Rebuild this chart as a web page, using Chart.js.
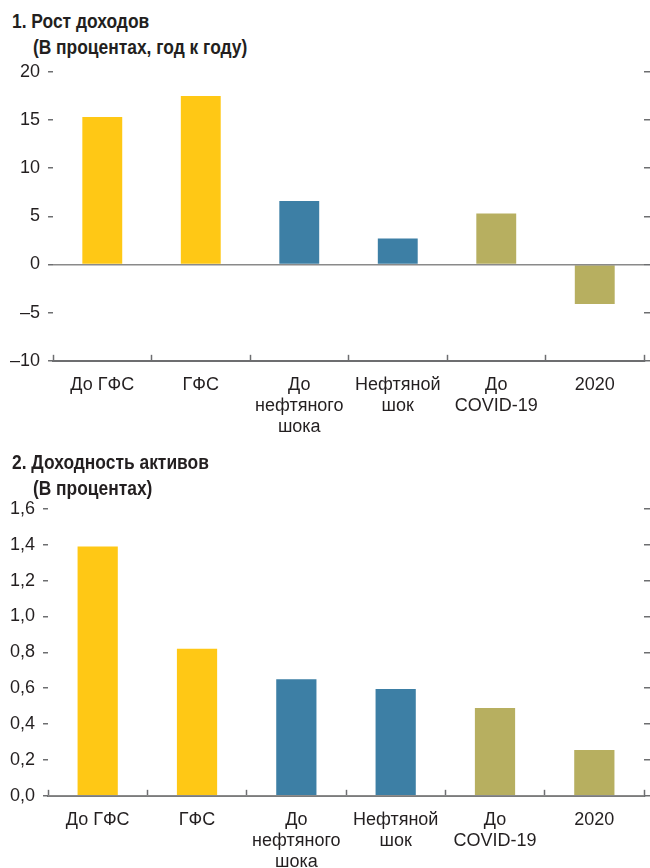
<!DOCTYPE html>
<html>
<head>
<meta charset="utf-8">
<script src="https://cdn.jsdelivr.net/npm/chart.js@4.4.0/dist/chart.umd.min.js"></script>
<style>
  body { margin: 0; width: 650px; height: 868px; overflow: hidden; background: #fff; position: relative;
         font-family: 'Liberation Sans Narrow', 'Liberation Sans', sans-serif; color: #231f20; }
  .title { position: absolute; left: 12px; font-weight: bold; font-size: 20px; line-height: 26px;
           transform: scaleX(0.87); transform-origin: left top; white-space: nowrap; }
  .title span { display: block; padding-left: 24px; }
  .box { position: absolute; left: 0; width: 650px; }
</style>
</head>
<body>
<div class="title" style="top:8px">1. Рост доходов<span>(В процентах, год к году)</span></div>
<div class="box" style="top:53px;height:410px"><canvas id="income-chart"></canvas></div>
<div class="title" style="top:449px">2. Доходность активов<span>(В процентах)</span></div>
<div class="box" style="top:490px;height:408px"><canvas id="roa-chart"></canvas></div>
<script>
var categories = [['До ГФС'], ['ГФС'], ['До', 'нефтяного', 'шока'], ['Нефтяной', 'шок'], ['До', 'COVID-19'], ['2020']];
var incomeGrowth = [15.3, 17.5, 6.6, 2.7, 5.3, -4.1];
var returnOnAssets = [1.39, 0.82, 0.65, 0.595, 0.49, 0.255];
var incomeAxis = [-10, 20, 5];   // min, max, step
var roaAxis = [0, 1.6, 0.2];
var barColors = ['#FFC815', '#FFC815', '#3D7FA5', '#3D7FA5', '#B7AF60', '#B7AF60'];

Chart.defaults.font.family = "'Liberation Sans Narrow', 'Liberation Sans', sans-serif";
Chart.defaults.color = '#231f20';

var axisGray = '#6d6e70';

function makeChart(id, values, axis, fmt) {
    return new Chart(document.getElementById(id), {
        type: 'bar',
        data: {
            labels: categories,
            datasets: [{
                data: values,
                backgroundColor: barColors,
                barPercentage: 0.405,
                categoryPercentage: 1
            }]
        },
        options: {
            responsive: true,
            maintainAspectRatio: false,
            animation: false,
            layout: { padding: { left: 2, right: 0, top: 0, bottom: 5 } },
            plugins: { legend: { display: false }, tooltip: { enabled: false } },
            scales: {
                x: {
                    grid: { offset: true, drawOnChartArea: false, tickLength: -6, tickColor: axisGray, tickWidth: 1.5 },
                    border: { color: axisGray, width: 2 },
                    ticks: { padding: 20, maxRotation: 0, autoSkip: false, font: { size: 18, lineHeight: 1.17 } }
                },
                y: {
                    min: axis[0], max: axis[1],
                    ticks: { stepSize: axis[2], padding: 8, callback: fmt, font: { size: 18 } },
                    grid: {
                        z: 1,
                        color: function (c) { return c.tick && c.tick.value === 0 ? '#8a8a8a' : 'rgba(0,0,0,0)'; },
                        lineWidth: 1.5,
                        tickColor: axisGray,
                        tickLength: 5
                    },
                    border: { display: false }
                },
                y2: {
                    position: 'right',
                    min: axis[0], max: axis[1],
                    ticks: { stepSize: axis[2], display: false },
                    grid: { drawOnChartArea: false, tickColor: axisGray, tickLength: 6, lineWidth: 1.5 },
                    border: { display: false }
                }
            }
        }
    });
}

makeChart('income-chart', incomeGrowth, incomeAxis, function (v) {
    return String(v).replace('-', '\u2013');
});
makeChart('roa-chart', returnOnAssets, roaAxis, function (v) {
    return v.toFixed(1).replace('.', ',');
});
</script>
</body>
</html>
